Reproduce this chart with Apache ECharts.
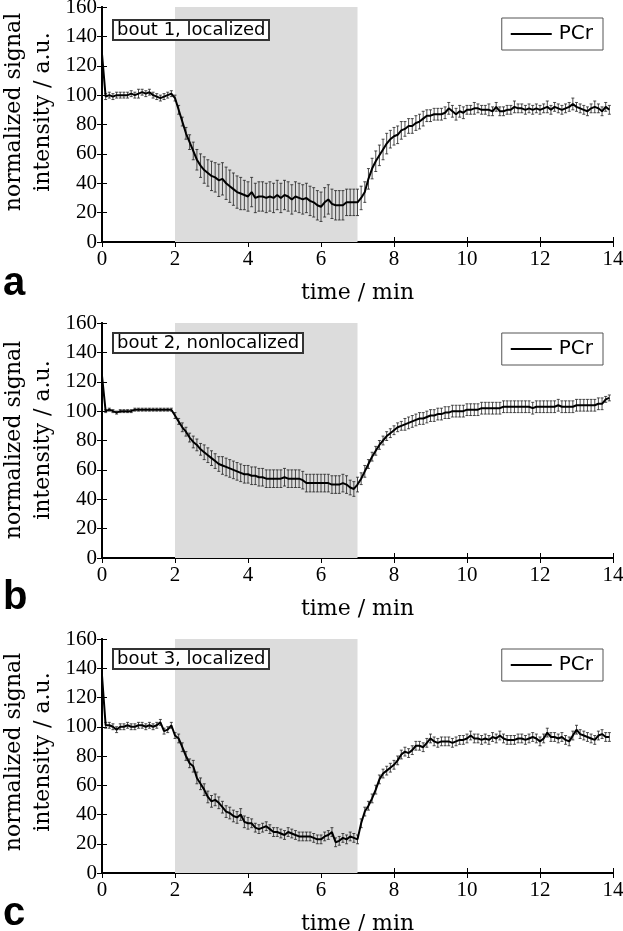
<!DOCTYPE html>
<html>
<head>
<meta charset="utf-8">
<script src="https://cdn.jsdelivr.net/npm/echarts@6/dist/echarts.min.js"></script>
<style>html,body{margin:0;padding:0;background:#fff}#c{width:623px;height:931px}</style>
</head>
<body>
<div id="c"></div>
<script>
// time / min
var times = [
0.0,0.1,0.2,0.3,0.4,0.5,0.6,0.7,0.8,0.9,
1.0,1.1,1.2,1.3,1.4,1.5,1.6,1.7,1.8,1.9,
2.0,2.1,2.2,2.3,2.4,2.5,2.6,2.7,2.8,2.9,
3.0,3.1,3.2,3.3,3.4,3.5,3.6,3.7,3.8,3.9,
4.0,4.1,4.2,4.3,4.4,4.5,4.6,4.7,4.8,4.9,
5.0,5.1,5.2,5.3,5.4,5.5,5.6,5.7,5.8,5.9,
6.0,6.1,6.2,6.3,6.4,6.5,6.6,6.7,6.8,6.9,
7.0,7.1,7.2,7.3,7.4,7.5,7.6,7.7,7.8,7.9,
8.0,8.1,8.2,8.3,8.4,8.5,8.6,8.7,8.8,8.9,
9.0,9.1,9.2,9.3,9.4,9.5,9.6,9.7,9.8,9.9,
10.0,10.1,10.2,10.3,10.4,10.5,10.6,10.7,10.8,10.9,
11.0,11.1,11.2,11.3,11.4,11.5,11.6,11.7,11.8,11.9,
12.0,12.1,12.2,12.3,12.4,12.5,12.6,12.7,12.8,12.9,
13.0,13.1,13.2,13.3,13.4,13.5,13.6,13.7,13.8,13.9
];

var pcrBout1 = [
128,99,100,99,100,100,100,100,101,100,
101,102,101,102,100,99,98,99,100,101,
98,90,82,74,68,62,56,52,49,47,
45,44,42,43,40,38,36,34,33,32,
31,34,30,31,31,30,31,30,32,30,
32,31,29,31,30,29,30,28,27,25,
24,27,29,26,25,25,25,27,27,27,
27,30,34,43,50,55,59,63,67,70,
72,73,76,77,79,79,81,82,84,86,
86,87,87,87,88,91,89,87,89,88,
90,90,91,91,90,90,90,89,92,89,
89,90,90,92,91,91,90,91,90,91,
90,91,92,90,92,91,90,91,92,94,
92,91,90,89,91,92,91,89,92,90
];
var errBout1 = [
0,2,2,2,2,2,2,2,2,2,
3,2,2,2,2,2,2,2,2,2,
2,3,3,4,5,6,7,8,9,9,
10,10,11,11,11,11,11,11,11,10,
10,10,10,10,10,10,10,10,10,10,
10,10,10,10,10,10,10,10,10,10,
10,10,10,10,10,10,10,9,9,9,
9,8,7,7,7,7,7,7,7,6,
6,6,6,5,5,5,5,5,5,4,
4,4,4,4,4,4,4,4,4,4,
3,3,4,3,3,3,4,3,3,3,
3,3,3,4,3,3,3,3,3,3,
3,3,4,3,3,3,3,3,3,4,
3,3,3,3,3,4,3,3,3,3
];

var pcrBout2 = [
124,100,101,100,99,100,100,100,100,101,
101,101,101,101,101,101,101,101,101,101,
97,93,89,86,82,79,77,74,72,70,
68,66,64,63,62,61,60,59,58,57,
57,56,56,55,55,54,54,54,54,54,
55,54,54,54,54,53,51,51,51,51,
51,51,51,50,50,50,51,50,48,47,
50,54,59,64,69,73,77,80,83,85,
87,89,90,91,92,93,94,95,95,96,
97,97,98,98,99,99,100,100,100,100,
101,101,101,101,102,102,102,102,102,102,
103,103,103,103,103,103,103,103,102,103,
103,103,103,103,103,104,103,103,103,103,
104,104,104,104,104,104,105,105,108,109
];
var errBout2 = [
0,1,1,1,1,1,1,1,1,1,
1,1,1,1,1,1,1,1,1,1,
2,2,3,3,3,4,4,4,5,5,
5,5,5,6,6,6,6,6,6,6,
6,6,6,6,6,6,6,6,6,6,
6,6,6,6,6,6,6,6,6,6,
6,6,6,6,6,6,6,6,5,5,
5,4,4,3,3,3,3,3,3,3,
3,3,3,4,4,4,4,4,4,4,
4,4,4,4,4,4,4,4,4,4,
4,4,4,4,4,4,4,4,4,4,
4,4,4,4,4,4,4,4,4,4,
4,4,4,4,4,4,4,4,4,4,
4,4,4,4,4,4,4,4,2,2
];

var pcrBout3 = [
135,101,101,100,98,100,100,101,100,100,
101,101,100,101,100,101,103,97,98,101,
94,92,86,80,75,73,65,61,57,52,
49,50,48,45,42,41,39,38,40,35,
34,34,31,30,31,32,30,28,28,27,
26,28,27,26,25,25,25,25,24,23,
23,25,26,28,21,22,24,23,25,24,
23,34,42,46,51,57,64,68,70,72,
74,77,81,83,82,84,87,87,86,89,
92,90,89,90,90,90,89,90,91,91,
92,94,92,92,91,92,91,93,92,94,
92,91,91,91,92,92,91,92,93,92,
90,92,96,93,93,92,93,91,90,94,
98,95,94,93,92,91,94,95,93,93
];
var errBout3 = [
0,2,2,2,2,2,2,2,2,2,
2,2,2,2,2,2,2,2,2,2,
2,3,3,3,3,4,4,4,4,4,
4,4,4,4,4,4,4,4,4,4,
4,3,3,3,3,3,3,3,3,3,
3,3,3,3,3,3,3,3,3,3,
3,3,3,3,3,3,3,3,3,3,
3,3,3,3,3,3,3,3,3,3,
3,3,3,3,3,3,3,3,3,3,
3,3,3,3,3,3,3,3,3,3,
3,3,3,3,3,3,3,3,3,3,
3,3,3,3,3,3,3,3,3,3,
3,3,3,3,3,3,3,3,3,3,
3,3,3,3,3,3,3,3,3,3
];

var panelTitles = ['bout 1, localized', 'bout 2, nonlocalized', 'bout 3, localized'];
var panelLetters = ['a', 'b', 'c'];
var xTicks = [0, 2, 4, 6, 8, 10, 12, 14];
var yTicks = [0, 20, 40, 60, 80, 100, 120, 140, 160];
var exerciseWindow = [2, 7];
var yAxisTitle = 'normalized signal\nintensity / a.u.';
var xAxisTitle = 'time / min';

var values = [pcrBout1, pcrBout2, pcrBout3];
var errors = [errBout1, errBout2, errBout3];

var gridTops = [7, 323, 639];
var gridHeights = [235, 235, 234];
var yNameCenters = [112, 440, 752];
var GL = 102, GW = 511;
var serif = 'DejaVu Serif';
var tickFont = 'Liberation Serif';
var sans = 'DejaVu Sans';

var grids = [], xAxes = [], yAxes = [], series = [], titles = [], legends = [], graphics = [];

for (var p = 0; p < 3; p++) {
  grids.push({left: GL, top: gridTops[p], width: GW, height: gridHeights[p],
    containLabel: false, outerBoundsMode: 'none'});
  var axLine = {show: true, lineStyle: {color: '#000', width: 2}};
  var tick = {show: true, inside: true, length: 5, lineStyle: {color: '#000', width: 1}};
  xAxes.push({
    type: 'value', gridIndex: p, min: 0, max: 14, interval: 2, position: 'bottom',
    axisLine: axLine, axisTick: tick, splitLine: {show: false},
    axisLabel: {color: '#000', fontFamily: tickFont, fontSize: 21, margin: 7,
      formatter: function (v) { return xTicks.indexOf(v) >= 0 ? String(v) : ''; }},
    name: xAxisTitle, nameLocation: 'middle', nameGap: 40,
    nameTextStyle: {color: '#000', fontFamily: serif, fontSize: 22}
  });
  xAxes.push({
    type: 'value', gridIndex: p, min: 0, max: 14, interval: 2, position: 'top',
    axisLine: axLine, axisTick: tick, axisLabel: {show: false}, splitLine: {show: false}
  });
  yAxes.push({
    type: 'value', gridIndex: p, min: 0, max: 160, interval: 20, position: 'left',
    axisLine: axLine, axisTick: tick, splitLine: {show: false},
    axisLabel: {color: '#000', fontFamily: tickFont, fontSize: 21, margin: 5,
      formatter: function (v) { return yTicks.indexOf(v) >= 0 ? String(v) : ''; }}
  });
  yAxes.push({
    type: 'value', gridIndex: p, min: 0, max: 160, interval: 20, position: 'right',
    axisLine: axLine, axisTick: tick, axisLabel: {show: false}, splitLine: {show: false}
  });

  var lineData = [], errData = [];
  for (var i = 0; i < times.length; i++) {
    lineData.push([times[i], values[p][i]]);
    errData.push([times[i], values[p][i] - errors[p][i], values[p][i] + errors[p][i]]);
  }
  series.push({
    name: 'PCr', type: 'line', xAxisIndex: 2 * p, yAxisIndex: 2 * p,
    data: lineData, showSymbol: false, symbol: 'none', z: 5,
    lineStyle: {color: '#000', width: 2}, itemStyle: {color: '#000'},
    markArea: {silent: true, itemStyle: {color: '#dcdcdc'},
      data: [[{xAxis: exerciseWindow[0]}, {xAxis: exerciseWindow[1]}]]}
  });
  series.push({
    type: 'custom', xAxisIndex: 2 * p, yAxisIndex: 2 * p, data: errData, z: 4,
    silent: true,
    renderItem: function (params, api) {
      var x = api.value(0), lo = api.value(1), hi = api.value(2);
      if (hi - lo <= 0) return null;
      var a = api.coord([x, lo]), b = api.coord([x, hi]);
      var w = 1.5, st = {stroke: '#222', lineWidth: 0.8};
      return {type: 'group', children: [
        {type: 'line', shape: {x1: a[0], y1: a[1], x2: b[0], y2: b[1]}, style: st},
        {type: 'line', shape: {x1: a[0] - w, y1: a[1], x2: a[0] + w, y2: a[1]}, style: st},
        {type: 'line', shape: {x1: b[0] - w, y1: b[1], x2: b[0] + w, y2: b[1]}, style: st}
      ]};
    }
  });

  var boxTop = [20, 333, 649][p];
  titles.push({
    text: panelTitles[p], left: 113, top: boxTop,
    backgroundColor: '#fff', borderColor: '#333', borderWidth: 2, padding: [1, 4, 1, 4],
    textStyle: {fontFamily: sans, fontSize: 18, fontWeight: 'normal', color: '#000'}
  });
  legends.push({
    data: ['PCr'], right: 20, top: [18, 333, 649][p], orient: 'horizontal',
    icon: 'rect', itemWidth: 41, itemHeight: 2, itemGap: 5,
    padding: [6, 10, 6, 9], borderColor: '#555', borderWidth: 1, backgroundColor: '#fff',
    textStyle: {fontFamily: sans, fontSize: 20, color: '#000', padding: [0, 0, 0, 2]},
    selectedMode: false
  });
  graphics.push({
    type: 'text', left: 3, top: [264, 578, 894][p],
    style: {text: panelLetters[p], font: 'bold 40px "Liberation Sans"', fill: '#000'}
  });
  graphics.push({
    type: 'text', x: 29, y: yNameCenters[p], rotation: Math.PI / 2,
    style: {text: yAxisTitle, font: '22px "DejaVu Serif"', fill: '#000',
      align: 'center', verticalAlign: 'middle', textAlign: 'center', textVerticalAlign: 'middle',
      lineHeight: 29}
  });
}

var chart = echarts.init(document.getElementById('c'), null, {renderer: 'canvas'});
chart.setOption({
  animation: false,
  backgroundColor: '#fff',
  grid: grids, xAxis: xAxes, yAxis: yAxes, series: series,
  title: titles, legend: legends, graphic: graphics
});
</script>
</body>
</html>
